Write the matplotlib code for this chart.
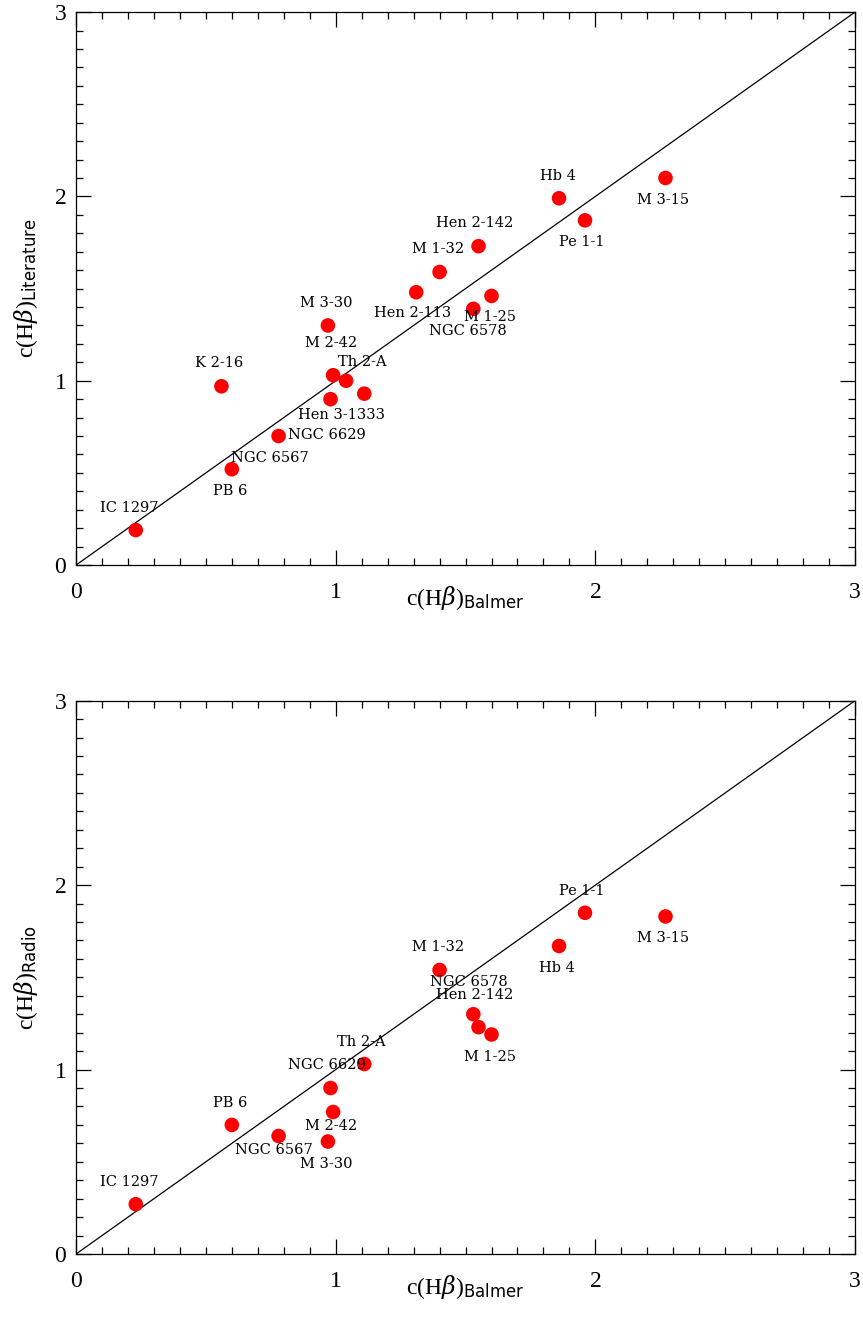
import numpy as np
import matplotlib
matplotlib.use("Agg")
import matplotlib.pyplot as plt

plt.rcParams['font.family'] = ['Liberation Serif', 'DejaVu Serif']
plt.rcParams['mathtext.fontset'] = 'dejavuserif'

# planetary nebulae, extinction coefficients
names = ['IC 1297', 'K 2-16', 'PB 6', 'NGC 6567', 'M 3-30', 'NGC 6629', 'M 2-42',
         'Hen 3-1333', 'Th 2-A', 'Hen 2-113', 'M 1-32', 'NGC 6578', 'Hen 2-142',
         'M 1-25', 'Hb 4', 'Pe 1-1', 'M 3-15']
balmer = [0.23, 0.56, 0.60, 0.78, 0.97, 0.98, 0.99, 1.04, 1.11, 1.31, 1.40,
          1.53, 1.55, 1.60, 1.86, 1.96, 2.27]
literature = [0.19, 0.97, 0.52, 0.70, 1.30, 0.90, 1.03, 1.00, 0.93, 1.48, 1.59,
              1.39, 1.73, 1.46, 1.99, 1.87, 2.10]
radio = [0.27, np.nan, 0.70, 0.64, 0.61, 0.90, 0.77, np.nan, 1.03, np.nan, 1.54,
         1.30, 1.23, 1.19, 1.67, 1.85, 1.83]

# label offsets (pixels) from each point
off_lit = [(-7, 22), (-2, 23), (-2, -22), (-9, -22), (-2, 22), (-4, -36), (-2, 32),
           (-5, -34), (-2, 32), (-4, -21), (-2, 23), (-5, -22), (-4, 23),
           (-2, -21), (-1, 22), (-3, -22), (-2, -22)]
off_rad = [(-7, 22), None, (-2, 22), (-5, -14), (-2, -22), (-4, 23), (-2, -14),
           None, (-3, 22), None, (-2, 23), (-4, 32), (-4, 32), (-2, -22),
           (-2, -22), (-3, 22), (-2, -22)]


def panel(ax, xv, yv, offs, sub):
    ax.plot([0, 3], [0, 3], color='black', lw=0.9, zorder=1)
    ax.scatter(xv, yv, s=110, color='#ff0000', edgecolors='none', zorder=3)
    for n, x, y, o in zip(names, xv, yv, offs):
        if o is None or np.isnan(y):
            continue
        ax.annotate(n, (x, y), xytext=o, textcoords='offset pixels',
                    ha='center', va='center', fontsize=10.5,
                    family='DejaVu Serif', zorder=4)
    ax.set_xlim(0, 3)
    ax.set_ylim(0, 3)
    ax.set_xticks([0, 1, 2, 3])
    ax.set_yticks([0, 1, 2, 3])
    ax.set_xticks(np.arange(0, 3.01, 0.1), minor=True)
    ax.set_yticks(np.arange(0, 3.01, 0.1), minor=True)
    ax.tick_params(which='both', direction='in', top=True, right=True,
                   width=0.9, labelsize=17)
    ax.tick_params(which='major', length=11)
    ax.tick_params(which='minor', length=5)
    ax.tick_params(axis='x', pad=12)
    ax.tick_params(axis='y', pad=7)
    for sp in ax.spines.values():
        sp.set_linewidth(0.9)
    ax.set_xlabel(r'c(H$\beta$)$_{\mathsf{Balmer}}$', fontsize=17)
    ax.set_ylabel(r'c(H$\beta$)$_{\mathsf{' + sub + '}}$', fontsize=17)
    ax.xaxis.set_label_coords(0.5, -0.035)
    ax.yaxis.set_label_coords(-0.046, 0.5)


fig = plt.figure(figsize=(8.63, 13.28), dpi=100)
ax1 = fig.add_axes([0.0881, 0.5745, 0.9027, 0.4164])
ax2 = fig.add_axes([0.0881, 0.0557, 0.9027, 0.4167])

panel(ax1, balmer, literature, off_lit, 'Literature')
panel(ax2, balmer, radio, off_rad, 'Radio')

fig.savefig('out.png', dpi=100)
